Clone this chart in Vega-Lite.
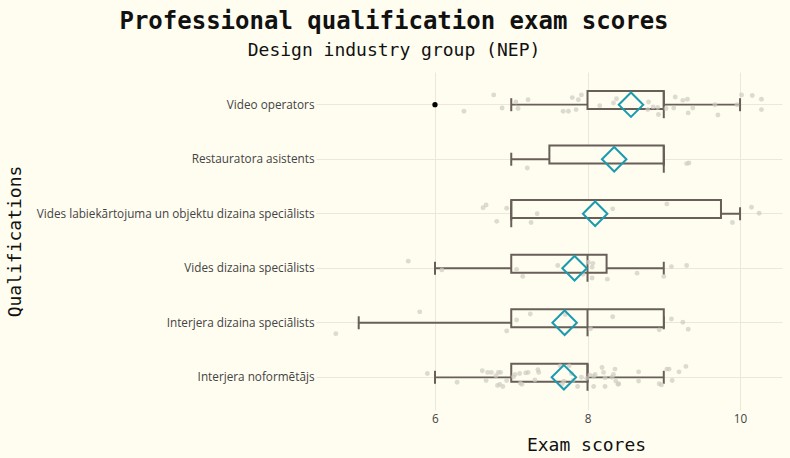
{
  "$schema": "https://vega.github.io/schema/vega-lite/v6.json",
  "autosize": {"type": "none"},
  "width": 466,
  "height": 338,
  "padding": {"left": 316, "top": 72, "right": 8, "bottom": 48},
  "background": "#FFFDF0",
  "title": {
    "text": "Professional qualification exam scores",
    "subtitle": "Design industry group (NEP)",
    "anchor": "middle",
    "frame": "bounds",
    "font": "DejaVu Sans Mono",
    "fontSize": 24,
    "fontWeight": "bold",
    "color": "#111111",
    "subtitleFont": "DejaVu Sans Mono",
    "subtitleFontSize": 18,
    "subtitleColor": "#111111",
    "subtitlePadding": 8,
    "offset": 12
  },
  "config": {
    "view": {"stroke": null},
    "axis": {
      "domain": false,
      "ticks": false,
      "gridColor": "#EBE8DA",
      "gridWidth": 1,
      "labelFont": "Open Sans",
      "labelFontSize": 11.75,
      "labelColor": "#444444",
      "titleFont": "DejaVu Sans Mono",
      "titleFontSize": 18,
      "titleFontWeight": "normal",
      "titleColor": "#111111"
    }
  },
  "datasets": {
    "boxes": [
      {"q": "Video operators", "lo": 7, "q1": 8, "med": 9, "q3": 9, "hi": 10, "mean": 8.57},
      {"q": "Restauratora asistents", "lo": 7, "q1": 7.5, "med": 9, "q3": 9, "hi": 9, "mean": 8.35},
      {"q": "Vides labiekārtojuma un objektu dizaina speciālists", "lo": 7, "q1": 7, "med": 7, "q3": 9.75, "hi": 10, "mean": 8.1},
      {"q": "Vides dizaina speciālists", "lo": 6, "q1": 7, "med": 8, "q3": 8.25, "hi": 9, "mean": 7.83},
      {"q": "Interjera dizaina speciālists", "lo": 5, "q1": 7, "med": 8, "q3": 9, "hi": 9, "mean": 7.7},
      {"q": "Interjera noformētājs", "lo": 6, "q1": 7, "med": 8, "q3": 8, "hi": 9, "mean": 7.69}
    ],
    "outliers": [
      {"q": "Video operators", "s": 6}
    ],
    "pts": [
      {"q": "Video operators", "s": 6.77, "j": 0.18},
      {"q": "Video operators", "s": 6.38, "j": -0.12},
      {"q": "Video operators", "s": 6.88, "j": -0.06},
      {"q": "Video operators", "s": 7.06, "j": 0.05},
      {"q": "Video operators", "s": 7.09, "j": -0.07},
      {"q": "Video operators", "s": 7.22, "j": 0.09},
      {"q": "Video operators", "s": 7.68, "j": -0.12},
      {"q": "Video operators", "s": 7.75, "j": -0.12},
      {"q": "Video operators", "s": 7.85, "j": -0.09},
      {"q": "Video operators", "s": 7.8, "j": 0.13},
      {"q": "Video operators", "s": 7.88, "j": 0.09},
      {"q": "Video operators", "s": 7.92, "j": 0.18},
      {"q": "Video operators", "s": 8.16, "j": -0.02},
      {"q": "Video operators", "s": 8.34, "j": 0.03},
      {"q": "Video operators", "s": 8.38, "j": 0.11},
      {"q": "Video operators", "s": 8.8, "j": 0.05},
      {"q": "Video operators", "s": 8.79, "j": -0.09},
      {"q": "Video operators", "s": 8.86, "j": -0.04},
      {"q": "Video operators", "s": 8.92, "j": -0.05},
      {"q": "Video operators", "s": 8.93, "j": -0.18},
      {"q": "Video operators", "s": 9.03, "j": -0.07},
      {"q": "Video operators", "s": 9.15, "j": 0.14},
      {"q": "Video operators", "s": 9.13, "j": -0.06},
      {"q": "Video operators", "s": 9.25, "j": 0.08},
      {"q": "Video operators", "s": 9.31, "j": 0.1},
      {"q": "Video operators", "s": 9.38, "j": -0.06},
      {"q": "Video operators", "s": 9.32, "j": -0.15},
      {"q": "Video operators", "s": 9.67, "j": 0.0},
      {"q": "Video operators", "s": 9.71, "j": -0.19},
      {"q": "Video operators", "s": 9.96, "j": 0.0},
      {"q": "Video operators", "s": 10.02, "j": 0.18},
      {"q": "Video operators", "s": 10.16, "j": 0.17},
      {"q": "Video operators", "s": 10.28, "j": 0.1},
      {"q": "Video operators", "s": 10.28, "j": -0.09},
      {"q": "Restauratora asistents", "s": 7.21, "j": -0.16},
      {"q": "Restauratora asistents", "s": 9.3, "j": -0.08},
      {"q": "Restauratora asistents", "s": 9.33, "j": -0.07},
      {"q": "Vides labiekārtojuma un objektu dizaina speciālists", "s": 6.63, "j": 0.11},
      {"q": "Vides labiekārtojuma un objektu dizaina speciālists", "s": 6.67, "j": 0.16},
      {"q": "Vides labiekārtojuma un objektu dizaina speciālists", "s": 6.81, "j": -0.14},
      {"q": "Vides labiekārtojuma un objektu dizaina speciālists", "s": 6.94, "j": 0.1},
      {"q": "Vides labiekārtojuma un objektu dizaina speciālists", "s": 7.26, "j": -0.16},
      {"q": "Vides labiekārtojuma un objektu dizaina speciālists", "s": 7.34, "j": 0.0},
      {"q": "Vides labiekārtojuma un objektu dizaina speciālists", "s": 8.33, "j": 0.09},
      {"q": "Vides labiekārtojuma un objektu dizaina speciālists", "s": 9.04, "j": 0.18},
      {"q": "Vides labiekārtojuma un objektu dizaina speciālists", "s": 9.9, "j": -0.16},
      {"q": "Vides labiekārtojuma un objektu dizaina speciālists", "s": 10.15, "j": 0.12},
      {"q": "Vides labiekārtojuma un objektu dizaina speciālists", "s": 10.25, "j": 0.01},
      {"q": "Vides dizaina speciālists", "s": 5.65, "j": 0.13},
      {"q": "Vides dizaina speciālists", "s": 6.09, "j": -0.03},
      {"q": "Vides dizaina speciālists", "s": 7.07, "j": -0.02},
      {"q": "Vides dizaina speciālists", "s": 7.15, "j": -0.15},
      {"q": "Vides dizaina speciālists", "s": 7.61, "j": 0.05},
      {"q": "Vides dizaina speciālists", "s": 7.94, "j": -0.11},
      {"q": "Vides dizaina speciālists", "s": 8.01, "j": 0.11},
      {"q": "Vides dizaina speciālists", "s": 8.07, "j": 0.09},
      {"q": "Vides dizaina speciālists", "s": 8.06, "j": 0.02},
      {"q": "Vides dizaina speciālists", "s": 8.06, "j": -0.18},
      {"q": "Vides dizaina speciālists", "s": 8.26, "j": -0.2},
      {"q": "Vides dizaina speciālists", "s": 8.65, "j": -0.09},
      {"q": "Vides dizaina speciālists", "s": 9.0, "j": -0.15},
      {"q": "Vides dizaina speciālists", "s": 9.1, "j": 0.03},
      {"q": "Vides dizaina speciālists", "s": 9.3, "j": 0.05},
      {"q": "Interjera dizaina speciālists", "s": 4.7, "j": -0.2},
      {"q": "Interjera dizaina speciālists", "s": 5.8, "j": 0.2},
      {"q": "Interjera dizaina speciālists", "s": 6.94, "j": -0.15},
      {"q": "Interjera dizaina speciālists", "s": 7.07, "j": 0.05},
      {"q": "Interjera dizaina speciālists", "s": 7.25, "j": 0.16},
      {"q": "Interjera dizaina speciālists", "s": 7.71, "j": 0.15},
      {"q": "Interjera dizaina speciālists", "s": 8.04, "j": -0.11},
      {"q": "Interjera dizaina speciālists", "s": 8.33, "j": 0.11},
      {"q": "Interjera dizaina speciālists", "s": 8.94, "j": -0.13},
      {"q": "Interjera dizaina speciālists", "s": 9.1, "j": 0.07},
      {"q": "Interjera dizaina speciālists", "s": 9.25, "j": 0.01},
      {"q": "Interjera dizaina speciālists", "s": 9.32, "j": -0.12},
      {"q": "Interjera noformētājs", "s": 5.9, "j": 0.07},
      {"q": "Interjera noformētājs", "s": 6.29, "j": -0.09},
      {"q": "Interjera noformētājs", "s": 6.62, "j": 0.12},
      {"q": "Interjera noformētājs", "s": 6.67, "j": -0.06},
      {"q": "Interjera noformētājs", "s": 6.69, "j": 0.09},
      {"q": "Interjera noformētājs", "s": 6.74, "j": 0.09},
      {"q": "Interjera noformētājs", "s": 6.83, "j": 0.09},
      {"q": "Interjera noformētājs", "s": 6.86, "j": 0.09},
      {"q": "Interjera noformētājs", "s": 6.8, "j": 0.03},
      {"q": "Interjera noformētājs", "s": 6.82, "j": -0.15},
      {"q": "Interjera noformētājs", "s": 6.85, "j": -0.13},
      {"q": "Interjera noformētājs", "s": 6.89, "j": -0.17},
      {"q": "Interjera noformētājs", "s": 6.94, "j": -0.06},
      {"q": "Interjera noformētājs", "s": 7.03, "j": 0.01},
      {"q": "Interjera noformētājs", "s": 7.05, "j": 0.05},
      {"q": "Interjera noformētājs", "s": 7.11, "j": 0.07},
      {"q": "Interjera noformētājs", "s": 7.12, "j": -0.11},
      {"q": "Interjera noformētājs", "s": 7.14, "j": -0.13},
      {"q": "Interjera noformētājs", "s": 7.19, "j": 0.08},
      {"q": "Interjera noformētājs", "s": 7.22, "j": 0.09},
      {"q": "Interjera noformētājs", "s": 7.31, "j": -0.05},
      {"q": "Interjera noformētājs", "s": 7.35, "j": 0.14},
      {"q": "Interjera noformētājs", "s": 7.36, "j": 0.09},
      {"q": "Interjera noformētājs", "s": 7.64, "j": 0.21},
      {"q": "Interjera noformētājs", "s": 7.69, "j": -0.07},
      {"q": "Interjera noformētājs", "s": 7.67, "j": -0.12},
      {"q": "Interjera noformētājs", "s": 7.76, "j": 0.21},
      {"q": "Interjera noformētājs", "s": 7.79, "j": 0.07},
      {"q": "Interjera noformētājs", "s": 7.81, "j": -0.06},
      {"q": "Interjera noformētājs", "s": 7.87, "j": -0.17},
      {"q": "Interjera noformētājs", "s": 7.92, "j": 0.0},
      {"q": "Interjera noformētājs", "s": 7.99, "j": -0.02},
      {"q": "Interjera noformētājs", "s": 8.03, "j": 0.04},
      {"q": "Interjera noformētājs", "s": 8.08, "j": 0.02},
      {"q": "Interjera noformētājs", "s": 8.08, "j": -0.17},
      {"q": "Interjera noformētājs", "s": 8.1, "j": 0.05},
      {"q": "Interjera noformētājs", "s": 8.19, "j": 0.18},
      {"q": "Interjera noformētājs", "s": 8.21, "j": 0.09},
      {"q": "Interjera noformētājs", "s": 8.23, "j": -0.01},
      {"q": "Interjera noformētājs", "s": 8.23, "j": -0.17},
      {"q": "Interjera noformētājs", "s": 8.32, "j": 0.0},
      {"q": "Interjera noformētājs", "s": 8.34, "j": 0.05},
      {"q": "Interjera noformētājs", "s": 8.36, "j": 0.15},
      {"q": "Interjera noformētājs", "s": 8.37, "j": -0.07},
      {"q": "Interjera noformētājs", "s": 8.4, "j": -0.13},
      {"q": "Interjera noformētājs", "s": 8.41, "j": -0.12},
      {"q": "Interjera noformētājs", "s": 8.67, "j": -0.07},
      {"q": "Interjera noformētājs", "s": 8.67, "j": 0.1},
      {"q": "Interjera noformētājs", "s": 8.94, "j": -0.12},
      {"q": "Interjera noformētājs", "s": 8.97, "j": -0.14},
      {"q": "Interjera noformētājs", "s": 9.04, "j": 0.15},
      {"q": "Interjera noformētājs", "s": 9.07, "j": 0.15},
      {"q": "Interjera noformētājs", "s": 9.11, "j": -0.06},
      {"q": "Interjera noformētājs", "s": 9.2, "j": 0.1},
      {"q": "Interjera noformētājs", "s": 9.29, "j": 0.2}
    ]
  },
  "encoding": {
    "y": {
      "field": "q",
      "type": "nominal",
      "title": "Qualifications",
      "scale": {
        "domain": [
          "Video operators",
          "Restauratora asistents",
          "Vides labiekārtojuma un objektu dizaina speciālists",
          "Vides dizaina speciālists",
          "Interjera dizaina speciālists",
          "Interjera noformētājs"
        ],
        "paddingInner": 0,
        "paddingOuter": 0.1
      },
      "axis": {"labelPadding": 2, "titleX": -301, "titleY": 169, "titleBaseline": "middle", "titleAlign": "center", "titleAngle": 270, "grid": true, "labelLimit": 400}
    }
  },
  "layer": [
    {
      "data": {"name": "boxes"},
      "mark": {"type": "rule", "color": "#675F58", "strokeWidth": 1.8},
      "encoding": {
        "x": {
          "field": "lo",
          "type": "quantitative",
          "title": "Exam scores",
          "scale": {"domain": [4.44, 10.55], "nice": false, "zero": false},
          "axis": {"values": [6, 8, 10], "format": "~g", "labelPadding": 3, "titlePadding": 12, "titleX": 270, "titleAlign": "center"}
        },
        "x2": {"field": "hi"}
      }
    },
    {
      "data": {"name": "boxes"},
      "mark": {"type": "tick", "color": "#675F58", "thickness": 2, "size": 13, "opacity": 1},
      "encoding": {"x": {"field": "lo", "type": "quantitative"}}
    },
    {
      "data": {"name": "boxes"},
      "mark": {"type": "tick", "color": "#675F58", "thickness": 2, "size": 13, "opacity": 1},
      "encoding": {"x": {"field": "hi", "type": "quantitative"}}
    },
    {
      "data": {"name": "boxes"},
      "mark": {"type": "bar", "fill": "#FFFDF0", "stroke": "#675F58", "strokeWidth": 2, "height": {"band": 0.5}},
      "encoding": {
        "x": {"field": "q1", "type": "quantitative"},
        "x2": {"field": "q3"}
      }
    },
    {
      "data": {"name": "boxes"},
      "mark": {"type": "tick", "color": "#675F58", "thickness": 2, "size": 27, "opacity": 1},
      "encoding": {"x": {"field": "med", "type": "quantitative"}}
    },
    {
      "data": {"name": "pts"},
      "mark": {"type": "circle", "color": "#CFCBC0", "opacity": 0.7, "size": 24},
      "encoding": {
        "x": {"field": "s", "type": "quantitative"},
        "yOffset": {"field": "j", "type": "quantitative", "scale": {"domain": [-0.5, 0.5], "range": [54.5, 0]}}
      }
    },
    {
      "data": {"name": "boxes"},
      "mark": {"type": "point", "shape": "diamond", "filled": false, "color": "#1B9BB0", "strokeWidth": 2, "size": 600, "opacity": 1},
      "encoding": {"x": {"field": "mean", "type": "quantitative"}}
    },
    {
      "data": {"name": "outliers"},
      "mark": {"type": "circle", "color": "#000000", "opacity": 1, "size": 28},
      "encoding": {"x": {"field": "s", "type": "quantitative"}}
    }
  ]
}
